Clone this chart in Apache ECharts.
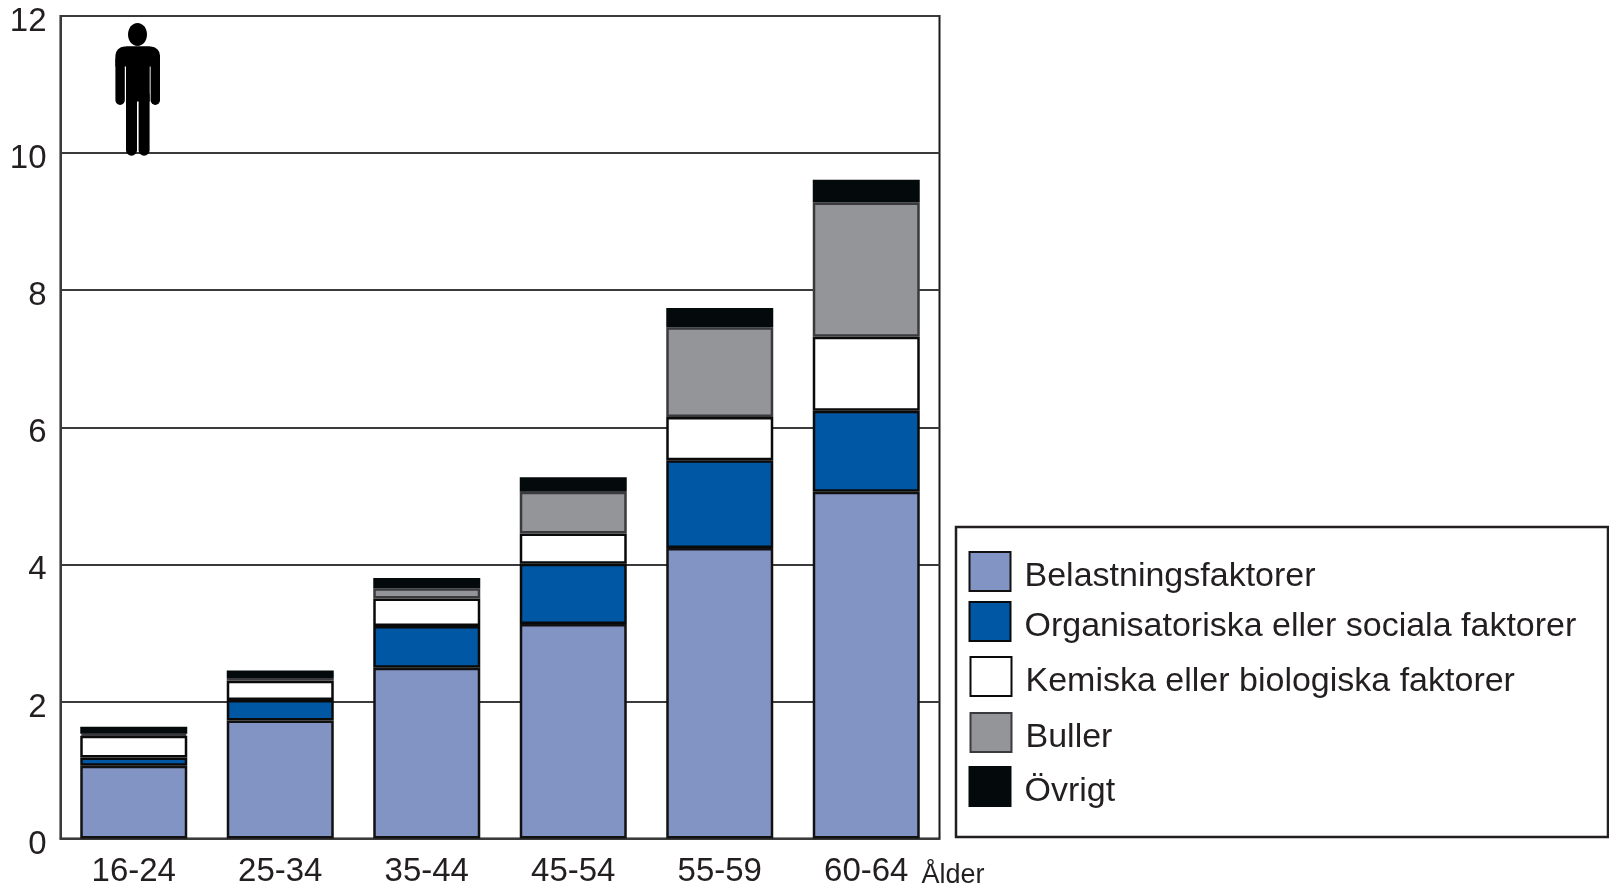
<!DOCTYPE html>
<html>
<head>
<meta charset="utf-8">
<style>
  html, body { margin: 0; padding: 0; background: #fff; }
  #chart { width: 1609px; height: 885px; }
</style>
<script src="https://cdn.jsdelivr.net/npm/echarts@6/dist/echarts.min.js"></script>
</head>
<body>
<div id="chart"></div>
<script>
const ageGroups = ['16-24', '25-34', '35-44', '45-54', '55-59', '60-64'];
const belastning = [1.06, 1.72, 2.49, 3.13, 4.24, 5.06];
const organisatoriska = [0.12, 0.30, 0.61, 0.88, 1.28, 1.18];
const kemiska = [0.32, 0.28, 0.40, 0.44, 0.63, 1.08];
const buller = [0.03, 0.04, 0.15, 0.61, 1.31, 1.96];
const ovrigt = [0.10, 0.11, 0.15, 0.21, 0.28, 0.33];

const font = '"Liberation Sans", Arial, sans-serif';
const textColor = '#231f20';

const chart = echarts.init(document.getElementById('chart'));

function barSeries(name, data, color, borderColor) {
  return {
    name: name,
    type: 'bar',
    stack: 'total',
    barWidth: 107,
    data: data,
    itemStyle: { color: color, borderColor: borderColor, borderWidth: 2.5 },
  };
}

// one legend per row, the rows in the picture are not evenly spaced
function legendRow(name, left, top) {
  return {
    data: [name],
    left: left,
    top: top,
    padding: 0,
    icon: 'rect',
    itemWidth: 41,
    itemHeight: 39,
    selectedMode: false,
    formatter: '{t|{name}}',
    textStyle: {
      rich: {
        t: {
          fontFamily: font,
          fontSize: 34,
          color: textColor,
          padding: [10, 0, 0, 9],
        },
      },
    },
  };
}

// piece of the person icon
function personPart(x, y, width, height, r) {
  return {
    type: 'rect',
    z: 10,
    shape: { x: x, y: y, width: width, height: height, r: r },
    style: { fill: '#000' },
  };
}

const option = {
  animation: false,
  backgroundColor: '#fff',
  grid: {
    left: 60.5,
    right: 669.5,
    top: 16,
    bottom: 46.5,
    outerBoundsMode: 'none',
    show: true,
    borderColor: '#1a1a1a',
    borderWidth: 2,
  },
  xAxis: {
    type: 'category',
    data: ageGroups,
    name: 'Ålder',
    nameLocation: 'end',
    nameGap: -18,
    nameTextStyle: {
      fontFamily: font,
      fontSize: 27,
      color: textColor,
      verticalAlign: 'top',
      padding: [24, 0, 0, 0],
    },
    axisTick: { show: false },
    axisLine: { lineStyle: { color: '#3a3a3a', width: 2 } },
    axisLabel: {
      fontFamily: font,
      fontSize: 33,
      color: textColor,
      margin: 17,
    },
  },
  yAxis: {
    type: 'value',
    min: 0,
    max: 12,
    interval: 2,
    axisLine: { show: true, lineStyle: { color: '#3a3a3a', width: 2 } },
    axisTick: { show: false },
    splitLine: { lineStyle: { color: '#3a3a3a', width: 2 } },
    axisLabel: {
      fontFamily: font,
      fontSize: 33,
      color: textColor,
      margin: 14,
      verticalAlign: 'top',
      lineHeight: 12,
    },
  },
  legend: [
    legendRow('Belastningsfaktorer', 968.5, 551),
    legendRow('Organisatoriska eller sociala faktorer', 968.5, 601),
    legendRow('Kemiska eller biologiska faktorer', 969.5, 656),
    legendRow('Buller', 969.5, 712),
    legendRow('Övrigt', 968.5, 766),
  ],
  graphic: [
    {
      type: 'rect',
      z: -1,
      shape: { x: 956, y: 527, width: 652, height: 310 },
      style: { fill: '#fff', stroke: '#231f20', lineWidth: 2.5 },
    },
    {
      type: 'ellipse',
      z: 10,
      shape: { cx: 137.5, cy: 34.5, rx: 9.5, ry: 11.5 },
      style: { fill: '#000' },
    },
    personPart(115.4, 46.5, 44.6, 20, [9, 9, 0, 0]),
    personPart(115.4, 55, 9.4, 50, 4.7),
    personPart(150.6, 55, 9.4, 50, 4.7),
    personPart(126, 46.5, 23.7, 55, 0),
    personPart(126, 90, 11, 65.7, 5.5),
    personPart(138.6, 90, 11, 65.7, 5.5),
  ],
  series: [
    barSeries('Belastningsfaktorer', belastning, '#8294c4', '#111'),
    barSeries('Organisatoriska eller sociala faktorer', organisatoriska, '#0057a3', '#0a0a0a'),
    barSeries('Kemiska eller biologiska faktorer', kemiska, '#ffffff', '#0a0a0a'),
    barSeries('Buller', buller, '#939598', '#3a3a3c'),
    barSeries('Övrigt', ovrigt, '#040a0b', '#040a0b'),
  ],
};

chart.setOption(option);
</script>
</body>
</html>
